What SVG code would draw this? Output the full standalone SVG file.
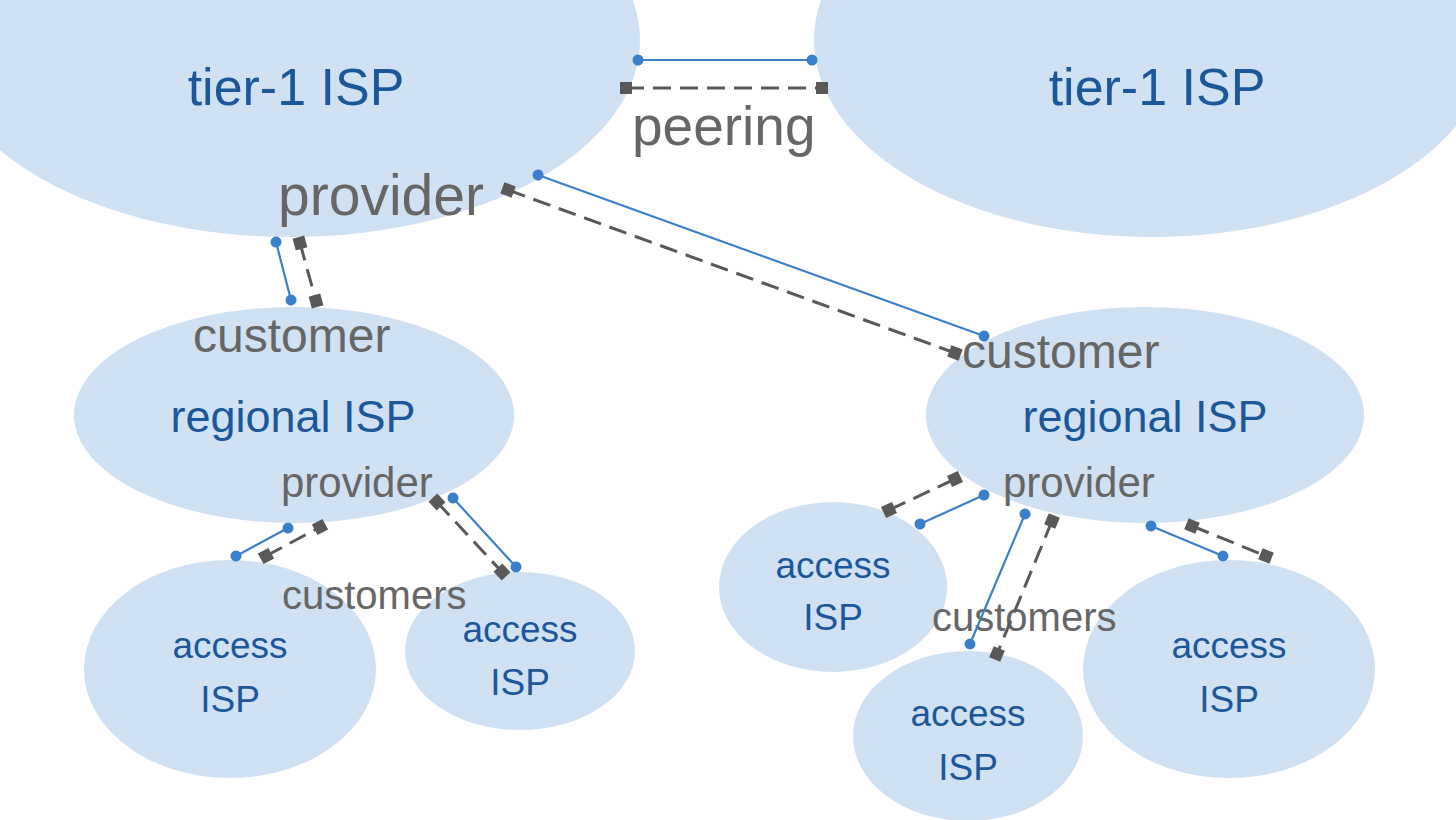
<svg xmlns="http://www.w3.org/2000/svg" width="1456" height="820" viewBox="0 0 1456 820">
<style>
.isp{fill:#CFE1F3;}
.lbl{font-family:"Liberation Sans",Arial,sans-serif;fill:#1C5899;text-anchor:middle;}
.rel{font-family:"Liberation Sans",Arial,sans-serif;fill:#666666;}
.b{stroke:#3A7FCB;stroke-width:2.2;fill:none;marker-start:url(#dot);marker-end:url(#dot);}
.g{stroke:#595959;stroke-width:3;fill:none;stroke-dasharray:18 9;marker-start:url(#sq);marker-end:url(#sq);}
</style>
<defs>
<marker id="dot" markerUnits="userSpaceOnUse" markerWidth="14" markerHeight="14" refX="7" refY="7" orient="auto"><circle cx="7" cy="7" r="5.5" fill="#3A7FCB"/></marker>
<marker id="sq" markerUnits="userSpaceOnUse" markerWidth="16" markerHeight="16" refX="8" refY="8" orient="auto"><rect x="2" y="2" width="12" height="12" fill="#595959"/></marker>
</defs>
<rect width="1456" height="820" fill="#FFFFFF"/>
<g id="tier1-left"><ellipse class="isp" cx="290" cy="40" rx="350" ry="197"/><text class="lbl" x="296" y="105" font-size="52">tier-1 ISP</text></g>
<g id="tier1-right"><ellipse class="isp" cx="1152" cy="40" rx="338" ry="197"/><text class="lbl" x="1157" y="105" font-size="52">tier-1 ISP</text></g>
<g id="regional-left"><ellipse class="isp" cx="294" cy="415" rx="220" ry="108"/><text class="lbl" x="293" y="432" font-size="45">regional ISP</text></g>
<g id="regional-right"><ellipse class="isp" cx="1145" cy="415" rx="219" ry="108"/><text class="lbl" x="1145" y="432" font-size="45">regional ISP</text></g>
<g id="access-l1"><ellipse class="isp" cx="230" cy="669" rx="146" ry="109"/><text class="lbl" x="230" y="658" font-size="37">access</text><text class="lbl" x="230" y="712" font-size="37">ISP</text></g>
<g id="access-l2"><ellipse class="isp" cx="520" cy="651" rx="115" ry="79"/><text class="lbl" x="520" y="642" font-size="37">access</text><text class="lbl" x="520" y="695" font-size="37">ISP</text></g>
<g id="access-r1"><ellipse class="isp" cx="833" cy="587" rx="114" ry="85"/><text class="lbl" x="833" y="578" font-size="37">access</text><text class="lbl" x="833" y="630" font-size="37">ISP</text></g>
<g id="access-r2"><ellipse class="isp" cx="968" cy="736" rx="115" ry="85"/><text class="lbl" x="968" y="726" font-size="37">access</text><text class="lbl" x="968" y="780" font-size="37">ISP</text></g>
<g id="access-r3"><ellipse class="isp" cx="1229" cy="669" rx="146" ry="109"/><text class="lbl" x="1229" y="658" font-size="37">access</text><text class="lbl" x="1229" y="712" font-size="37">ISP</text></g>
<g id="labels">
<text class="rel" x="632" y="145" font-size="55">peering</text>
<text class="rel" x="278" y="215" font-size="57">provider</text>
<text class="rel" x="193" y="352" font-size="48">customer</text>
<text class="rel" x="962" y="368" font-size="48">customer</text>
<text class="rel" x="281" y="497" font-size="42">provider</text>
<text class="rel" x="1003" y="497" font-size="42">provider</text>
<text class="rel" x="282" y="609" font-size="40">customers</text>
<text class="rel" x="932" y="631" font-size="40">customers</text>
</g>
<g id="connectors">
<line class="b" x1="638" y1="60" x2="812" y2="60"/>
<line class="g" x1="626" y1="88" x2="822" y2="88" stroke-dasharray="13 9"/>
<line class="b" x1="538" y1="175" x2="984" y2="336"/>
<line class="g" x1="508" y1="190" x2="955" y2="353" stroke-dasharray="22 10"/>
<line class="b" x1="276" y1="242" x2="291" y2="300"/>
<line class="g" x1="300" y1="243" x2="316" y2="301"/>
<line class="b" x1="236" y1="556" x2="288" y2="528"/>
<line class="g" x1="266" y1="556" x2="320" y2="527"/>
<line class="b" x1="453" y1="498" x2="516" y2="567"/>
<line class="g" x1="437" y1="502" x2="502" y2="572"/>
<line class="b" x1="920" y1="524" x2="984" y2="495"/>
<line class="g" x1="889" y1="510" x2="955" y2="479"/>
<line class="b" x1="1025" y1="514" x2="970" y2="644"/>
<line class="g" x1="1052" y1="521" x2="997" y2="654"/>
<line class="b" x1="1151" y1="526" x2="1223" y2="556"/>
<line class="g" x1="1192" y1="526" x2="1266" y2="556"/>
</g>
</svg>
